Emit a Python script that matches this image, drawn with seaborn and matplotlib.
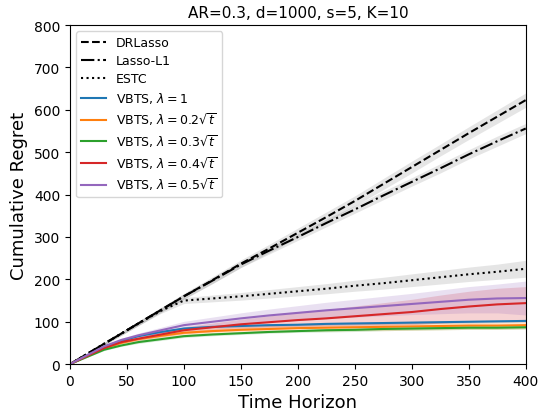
import numpy as np
import pandas as pd
import matplotlib
matplotlib.use("Agg")
import matplotlib.pyplot as plt
import seaborn as sns

T = [0, 15, 30, 45, 60, 80, 100, 125, 150, 175, 200, 225, 250, 275, 300, 325, 350, 375, 400]

drlasso = [0, 24, 48, 72, 96, 128, 160, 198, 237, 273, 310, 347, 385, 425, 465, 505, 545, 584, 623]
drlasso_err = [0, 2, 3, 4, 5, 6, 7, 8, 9, 10, 11, 12, 12, 13, 14, 14, 15, 16, 17]
lasso_l1 = [0, 24, 48, 72, 96, 128, 160, 197, 235, 268, 300, 333, 365, 398, 430, 462, 495, 526, 556]
lasso_l1_err = [0, 2, 3, 4, 5, 5, 6, 7, 7, 8, 8, 9, 9, 10, 10, 11, 11, 12, 12]
estc = [0, 24, 48, 72, 96, 126, 150, 155, 160, 166, 172, 178, 185, 191, 198, 205, 212, 218, 225]
estc_err = [0, 2, 3, 4, 5, 6, 7, 8, 9, 10, 11, 12, 13, 14, 15, 16, 17, 18, 20]

vbts_1 = [0, 20, 40, 55, 66, 76, 84, 88, 90, 92, 93, 95, 96, 97, 98, 99, 100, 101, 102]
vbts_1_err = [0, 1, 2, 2, 3, 3, 3, 3, 3, 3, 3, 3, 3, 3, 3, 3, 3, 3, 3]
vbts_02 = [0, 19, 37, 50, 59, 67, 74, 78, 81, 83, 85, 86, 87, 88, 89, 90, 91, 91, 92]
vbts_02_err = [0, 1, 2, 3, 4, 5, 6, 7, 7, 8, 8, 8, 8, 9, 9, 9, 9, 9, 9]
vbts_03 = [0, 17, 34, 44, 52, 59, 66, 70, 73, 76, 78, 80, 81, 83, 84, 85, 86, 86, 87]
vbts_03_err = [0, 1, 2, 2, 3, 3, 3, 3, 3, 3, 3, 4, 4, 4, 4, 4, 4, 4, 4]
vbts_04 = [0, 19, 38, 52, 60, 70, 80, 87, 94, 99, 104, 108, 113, 118, 123, 130, 136, 141, 144]
vbts_04_err = [0, 1, 2, 3, 4, 6, 8, 10, 12, 15, 18, 21, 24, 27, 30, 33, 36, 38, 39]
vbts_05 = [0, 21, 42, 57, 68, 80, 92, 100, 108, 115, 121, 127, 132, 137, 142, 147, 152, 155, 156]
vbts_05_err = [0, 2, 3, 4, 5, 7, 9, 11, 13, 15, 17, 19, 21, 23, 25, 28, 31, 34, 40]

labels = ["DRLasso", "Lasso-L1", "ESTC",
          r"VBTS, $\lambda=1$", r"VBTS, $\lambda=0.2\sqrt{t}$",
          r"VBTS, $\lambda=0.3\sqrt{t}$", r"VBTS, $\lambda=0.4\sqrt{t}$",
          r"VBTS, $\lambda=0.5\sqrt{t}$"]
means = [drlasso, lasso_l1, estc, vbts_1, vbts_02, vbts_03, vbts_04, vbts_05]
errs = [drlasso_err, lasso_l1_err, estc_err, vbts_1_err, vbts_02_err, vbts_03_err, vbts_04_err, vbts_05_err]

tab = sns.color_palette("tab10")
colors = ["black", "black", "black", tab[0], tab[1], tab[2], tab[3], tab[4]]
band_colors = ["gray", "gray", "gray", tab[0], tab[1], tab[2], tab[3], tab[4]]
styles = ["--", "-.", ":", "-", "-", "-", "-", "-"]

fig = plt.figure(figsize=(5.42, 4.14), dpi=100)
ax = fig.add_axes([0.129, 0.118, 0.841, 0.819])

for lab, m, e, c, bc, ls in zip(labels, means, errs, colors, band_colors, styles):
    df = pd.DataFrame({"t": T, "r": m})
    sns.lineplot(data=df, x="t", y="r", ax=ax, color=c, linestyle=ls, label=lab, linewidth=1.5)
    lo = np.array(m) - np.array(e)
    hi = np.array(m) + np.array(e)
    ax.fill_between(T, lo, hi, color=bc, alpha=0.2, linewidth=0)

ax.set_xlim(0, 400)
ax.set_ylim(0, 800)
ax.set_title("AR=0.3, d=1000, s=5, K=10", fontsize=11)
ax.set_xlabel("Time Horizon", fontsize=13)
ax.set_ylabel("Cumulative Regret", fontsize=13)
ax.legend(loc="upper left", fontsize=9, labelspacing=0.4)

fig.savefig("out.png", dpi=100)
